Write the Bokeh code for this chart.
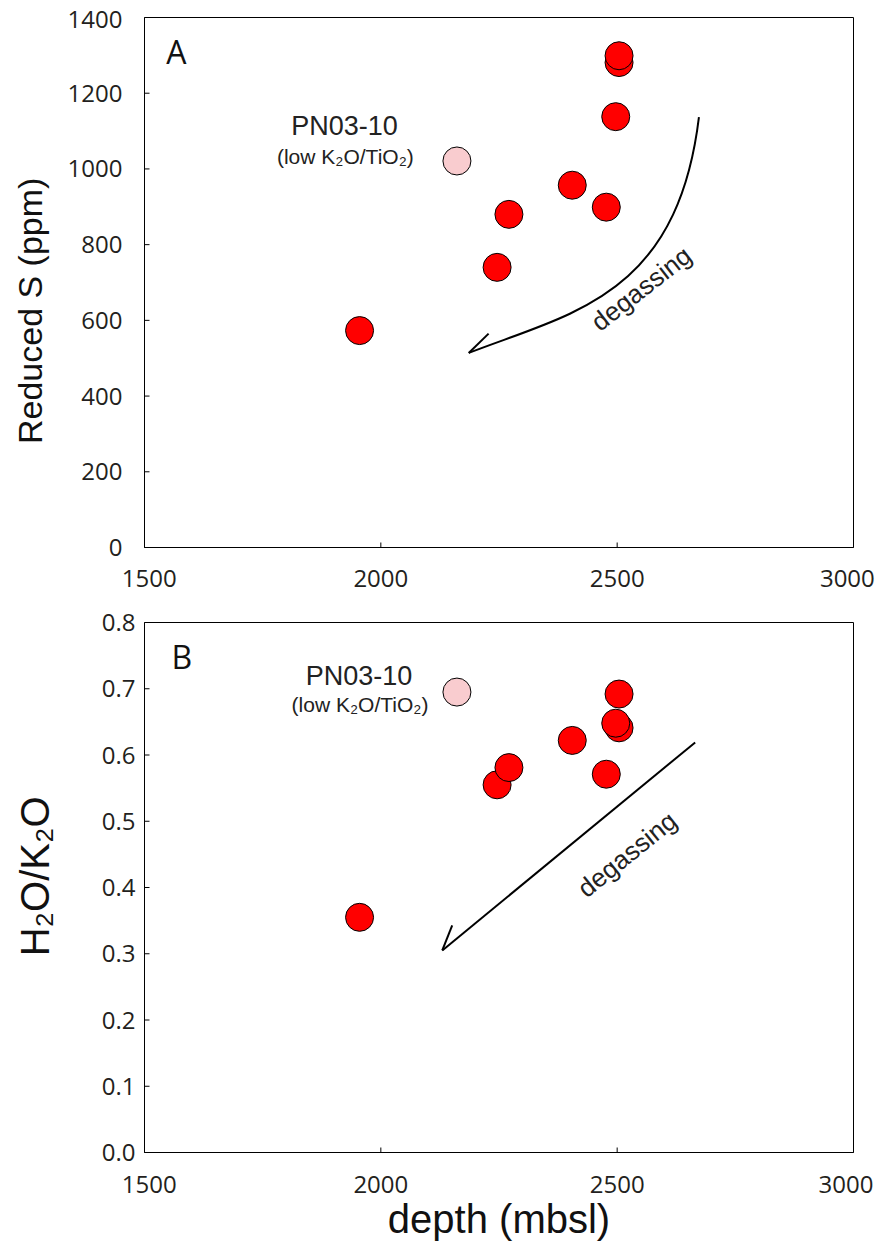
from bokeh.plotting import figure
from bokeh.models import FixedTicker, PrintfTickFormatter, Range1d
from bokeh.layouts import column
from bokeh.core.properties import value
from bokeh.embed import file_html
from bokeh.resources import INLINE

# ---------------- data ----------------
depth = [1955, 2246, 2271, 2405, 2477, 2504, 2497, 2504]          # mbsl
reduced_s = [573, 740, 880, 957, 899, 1281, 1138, 1299]           # ppm
h2o_k2o = [0.355, 0.555, 0.581, 0.622, 0.571, 0.641, 0.648, 0.692]

pn_depth = [2161]          # PN03-10 (low K2O/TiO2)
pn_reduced_s = [1021]
pn_h2o_k2o = [0.695]

x_ticks = [1500, 2000, 2500, 3000]
s_ticks = [0, 200, 400, 600, 800, 1000, 1200, 1400]
r_ticks = [0.0, 0.1, 0.2, 0.3, 0.4, 0.5, 0.6, 0.7, 0.8]

# degassing trend arrows (data coordinates)
arrow_a = dict(x0=[2673], y0=[1137], cx0=[2627], cy0=[661], cx1=[2402], cy1=[619], x1=[2186], y1=[514])
arrow_a_wing = dict(x0=[2186], y0=[514], x1=[2228], y1=[565])
arrow_b = dict(x0=[2665], y0=[0.619], x1=[2130], y1=[0.305])
arrow_b_wing = dict(x0=[2130], y0=[0.305], x1=[2151], y1=[0.343])

TICK_FONT = "Open Sans"
TEXT_FONT = "Liberation Sans"
TICK_COLOR = "#231F20"
TEXT_COLOR = "#222222"
NB = "\u00a0"


def base_style(p):
    p.xgrid.visible = False
    p.ygrid.visible = False
    p.outline_line_color = "black"
    p.outline_line_width = 1
    p.outline_line_alpha = 1


def label_axis(ax, ticks, texts, shift_first, shift_last, standoff):
    # tick labels at the tick values (end labels nudged inward as in the original figure)
    pos = list(ticks)
    pos[0] = pos[0] + shift_first
    pos[-1] = pos[-1] + shift_last
    ax.ticker = FixedTicker(ticks=pos)
    ax.major_label_overrides = {q: t for q, t in zip(pos, texts)}
    ax.axis_line_color = "black"
    ax.major_tick_line_color = None
    ax.minor_tick_line_color = None
    ax.major_tick_in = 0
    ax.major_tick_out = 0
    ax.minor_tick_in = 0
    ax.minor_tick_out = 0
    ax.major_label_standoff = standoff
    ax.major_label_text_font = TICK_FONT
    ax.major_label_text_font_size = "24px"
    ax.major_label_text_color = TICK_COLOR
    ax.axis_label_text_font = TEXT_FONT
    ax.axis_label_text_font_style = "normal"
    ax.axis_label_text_color = "#111111"


def inward_ticks(p, xt, yt, x0, y0):
    # 5 px inward tick marks on the bottom and left frame edges
    p.ray(x=xt, y=[y0] * len(xt), length=5, length_units="screen", angle=90, angle_units="deg",
          line_color="black", line_width=1)
    p.ray(x=[x0] * len(yt), y=yt, length=5, length_units="screen", angle=0, angle_units="deg",
          line_color="black", line_width=1)


x_texts = [str(t) for t in x_ticks]

# ---------------- panel A ----------------
p1 = figure(width=880, height=603, x_range=Range1d(1500, 3000), y_range=Range1d(0, 1400),
            output_backend="svg", toolbar_location=None,
            min_border_left=141, min_border_right=27, min_border_top=17, min_border_bottom=56)
base_style(p1)
label_axis(p1.xaxis[0], x_ticks, x_texts, 10, -13, 22)
label_axis(p1.yaxis[0], s_ticks, [str(t) for t in s_ticks], 0, -5, 22)
p1.yaxis[0].axis_label = "Reduced S (ppm)" + NB * 6
p1.yaxis[0].axis_label_text_font_size = "34px"
p1.yaxis[0].axis_label_standoff = 16
inward_ticks(p1, x_ticks, s_ticks, x_ticks[0], s_ticks[0])

p1.bezier(line_color="black", line_width=2, **arrow_a)
p1.segment(line_color="black", line_width=2, **arrow_a_wing)
p1.text(x=[2551], y=[684], text=["degassing"], angle=38, angle_units="deg",
        text_font=value(TEXT_FONT), text_font_size="26px", text_color=TEXT_COLOR,
        text_align="center", text_baseline="middle")

p1.scatter(pn_depth, pn_reduced_s, marker="circle", size=28, fill_color="#F9CCCF",
           line_color="black", line_width=1)
p1.scatter(depth, reduced_s, marker="circle", size=28, fill_color="#FF0000",
           line_color="black", line_width=1)

p1.text(x=[1923], y=[1114], text=["PN03-10"], text_font=value(TEXT_FONT), text_font_size="27px",
        text_color=TEXT_COLOR, text_align="center", text_baseline="middle")
p1.text(x=[1925], y=[1033], text=["(low K\u2082O/TiO\u2082)"], text_font=value(TEXT_FONT),
        text_font_size="21px", text_color=TEXT_COLOR, text_align="center", text_baseline="middle")
p1.text(x=[1546], y=[1311], text=["A"], text_font=value(TICK_FONT), text_font_size="32px",
        text_color="#111111", text_align="left", text_baseline="middle")

# ---------------- panel B ----------------
p2 = figure(width=880, height=642, x_range=Range1d(1500, 3000), y_range=Range1d(0, 0.8),
            output_backend="svg", toolbar_location=None,
            min_border_left=144, min_border_right=22, min_border_top=19, min_border_bottom=93)
base_style(p2)
label_axis(p2.xaxis[0], x_ticks, x_texts, 10, -16, 23)
p2.xaxis[0].axis_label = "depth (mbsl)"
p2.xaxis[0].axis_label_text_font_size = "40px"
p2.xaxis[0].axis_label_standoff = 1

label_axis(p2.yaxis[0], r_ticks, ["%.1f" % t for t in r_ticks], 0, 0, 9)
p2.yaxis[0].axis_label = NB * 2 + "H\u2082O/K\u2082O"
p2.yaxis[0].axis_label_text_font_size = "40px"
p2.yaxis[0].axis_label_standoff = 42
inward_ticks(p2, x_ticks, r_ticks, x_ticks[0], r_ticks[0])

p2.segment(line_color="black", line_width=2, **arrow_b)
p2.segment(line_color="black", line_width=2, **arrow_b_wing)
p2.text(x=[2521], y=[0.450], text=["degassing"], angle=39, angle_units="deg",
        text_font=value(TEXT_FONT), text_font_size="26px", text_color=TEXT_COLOR,
        text_align="center", text_baseline="middle")

p2.scatter(pn_depth, pn_h2o_k2o, marker="circle", size=28, fill_color="#F9CCCF",
           line_color="black", line_width=1)
p2.scatter(depth, h2o_k2o, marker="circle", size=28, fill_color="#FF0000",
           line_color="black", line_width=1)

p2.text(x=[1954], y=[0.720], text=["PN03-10"], text_font=value(TEXT_FONT), text_font_size="27px",
        text_color=TEXT_COLOR, text_align="center", text_baseline="middle")
p2.text(x=[1956], y=[0.676], text=["(low K\u2082O/TiO\u2082)"], text_font=value(TEXT_FONT),
        text_font_size="21px", text_color=TEXT_COLOR, text_align="center", text_baseline="middle")
p2.text(x=[1557], y=[0.748], text=["B"], text_font=value(TICK_FONT), text_font_size="32px",
        text_color="#111111", text_align="left", text_baseline="middle")

layout = column(p1, p2, spacing=0)
open("out.html", "w").write(file_html(layout, INLINE))
